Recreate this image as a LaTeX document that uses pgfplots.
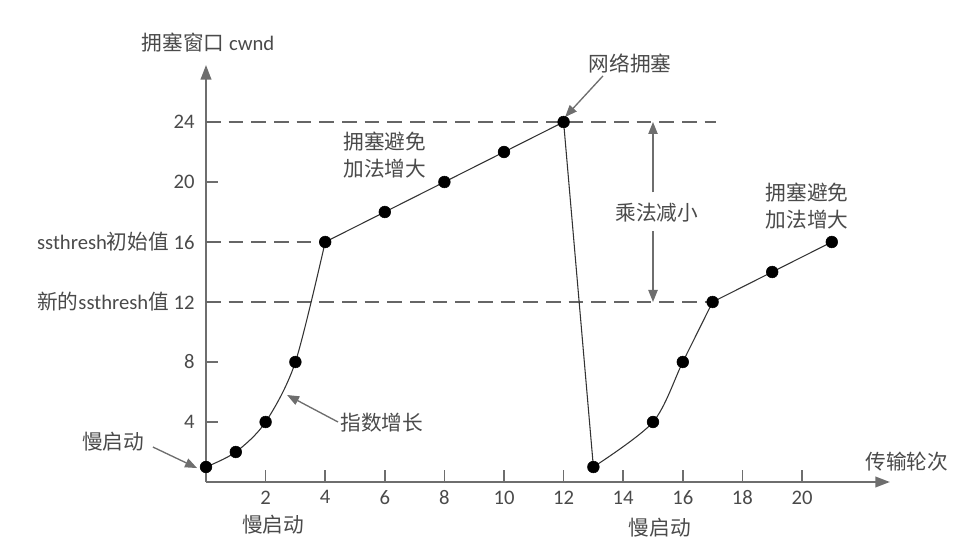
\documentclass[border=0pt]{standalone}
\usepackage{fontspec}
\setmainfont{Carlito}
\newfontfamily\cjk{Noto Sans CJK SC}
\usepackage{pgfplots}
\pgfplotsset{compat=1.18}
\usetikzlibrary{arrows.meta}
\definecolor{txt}{HTML}{4A4A4A}
\definecolor{axc}{HTML}{6E6E6E}
\definecolor{dsh}{HTML}{666666}
\definecolor{ln}{HTML}{333333}
\begin{document}
\begin{tikzpicture}
\begin{axis}[
  at={(154.5pt,51pt)}, anchor=origin,
  x=22.35pt, y=11.25pt,
  xmin=0, xmax=22.95, ymin=0, ymax=27.8,
  axis lines=left,
  axis line style={axc, line width=1.4pt, -{Triangle[length=11pt,width=8pt]}},
  clip=false,
  xtick={2,4,...,20}, ytick={4,8,12,16,20,24},
  xticklabels={2,4,6,8,10,12,14,16,18,20},
  yticklabels={4,8,{{\cjk 新的}ssthresh{\cjk 值}\ 12},{ssthresh{\cjk 初始值}\ 16},20,24},
  tick style={axc, line width=1.2pt},
  major tick length=9pt,
  tick align=inside,
  ticklabel style={font=\fontsize{15.5}{18}\selectfont, text=txt},
  xticklabel style={yshift=-3pt},
  yticklabel style={xshift=-5pt},
]
% dashed guide lines
\addplot[dsh, line width=1.7pt, dash pattern=on 11pt off 6pt] coordinates {(0,24) (17.1,24)};
\addplot[dsh, line width=1.7pt, dash pattern=on 11pt off 6pt] coordinates {(0,16) (4,16)};
\addplot[dsh, line width=1.7pt, dash pattern=on 11pt off 6pt] coordinates {(0,12) (17,12)};
% cwnd curve
\addplot[ln, line width=0.8pt, smooth] coordinates {(0,1) (1,2) (2,4) (3,8) (4,16)};
\addplot[ln, line width=0.8pt] coordinates {(4,16) (6,18) (8,20) (10,22) (12,24) (13,1)};
\addplot[ln, line width=0.8pt, smooth] coordinates {(13,1) (15,4) (16,8) (17,12)};
\addplot[ln, line width=0.8pt] coordinates {(17,12) (19,14) (21,16)};
\addplot[only marks, mark=*, mark size=4.4pt, black] coordinates {
  (0,1) (1,2) (2,4) (3,8) (4,16) (6,18) (8,20) (10,22) (12,24)
  (13,1) (15,4) (16,8) (17,12) (19,14) (21,16)};
% annotations
\tikzset{lab/.style={font=\cjk\fontsize{15.5}{20}\selectfont, text=txt, align=center, inner sep=0pt}}
\node[lab] at (axis cs:0.07,29.27) {拥塞窗口 {\fontspec{Carlito}cwnd}};
\node[lab] at (axis cs:23.52,1.33) {传输轮次};
\node[lab] at (axis cs:-3.12,2.67) {慢启动};
\draw[axc, line width=1pt, -{Triangle[length=9pt,width=7pt]}] (axis cs:-1.78,2.33) -- (axis cs:-0.3,0.93);
\node[lab] at (axis cs:5.9,3.93) {指数增长};
\draw[axc, line width=1pt, -{Triangle[length=9pt,width=7pt]}] (axis cs:4.43,4.0) -- (axis cs:2.72,5.8);
\node[lab] at (axis cs:6.0,21.8) {拥塞避免\\加法增大};
\node[lab] at (axis cs:14.23,27.93) {网络拥塞};
\draw[axc, line width=1pt, -{Triangle[length=9pt,width=7pt]}] (axis cs:13.32,27.07) -- (axis cs:12.05,24.33);
\node[lab] at (axis cs:15.13,17.93) {乘法减小};
\draw[axc, line width=1pt, -{Triangle[length=9pt,width=7pt]}] (axis cs:15,19.3) -- (axis cs:15,24);
\draw[axc, line width=1pt, -{Triangle[length=9pt,width=7pt]}] (axis cs:15,16.7) -- (axis cs:15,12);
\node[lab] at (axis cs:20.17,18.4) {拥塞避免\\加法增大};
\node[lab] at (axis cs:2.25,-2.87) {慢启动};
\node[lab] at (axis cs:15.23,-3.07) {慢启动};
\end{axis}
\pgfresetboundingbox
\path (0,0) rectangle (731.25pt,412.5pt);
\end{tikzpicture}
\end{document}
